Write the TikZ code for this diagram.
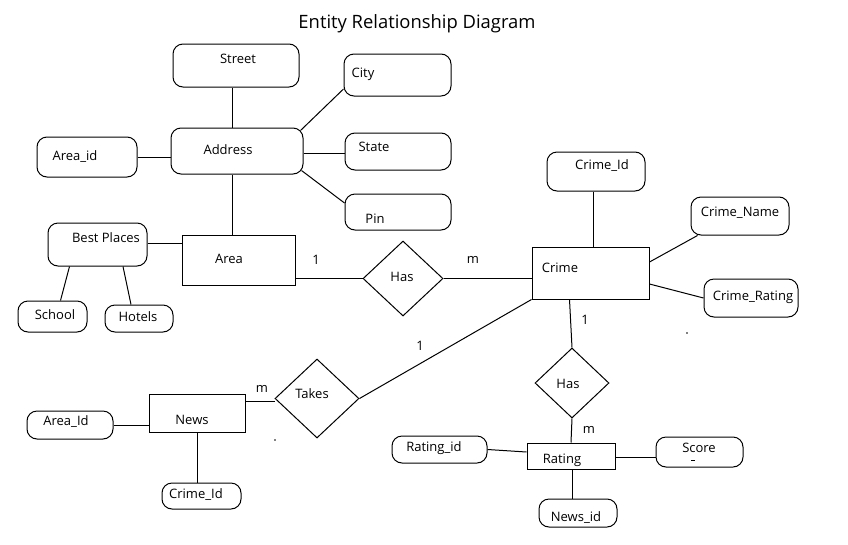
\documentclass[tikz,border=0pt]{standalone}
\usepackage{fontspec}
\setmainfont{Open Sans}
\usetikzlibrary{shapes.geometric}
\tikzset{
	attr/.style={draw, rounded corners=10pt, inner sep=0pt},
	entity/.style={draw, rectangle, inner sep=0pt},
	rel/.style={draw, diamond, inner sep=0pt},
	txt/.style={inner sep=0pt, text height=9pt, text depth=0pt},
	card/.style={inner sep=0pt, text height=9pt, text depth=0pt}
}
\begin{document}
\begin{tikzpicture}[x=1pt,y=-1pt,line width=1pt,font=\fontsize{13}{15}\selectfont]
\useasboundingbox (0,0) rectangle (848,544);
\node[inner sep=0pt, font=\fontsize{18.4}{21}\selectfont] (title) at (417,24) {Entity Relationship Diagram};

\node[attr, minimum width=126pt, minimum height=43pt] (street) at (236,65.5) {};
\node[attr, minimum width=107pt, minimum height=42pt] (city) at (397.5,75) {};
\node[attr, minimum width=132pt, minimum height=46pt] (address) at (237,151) {};
\node[attr, minimum width=100pt, minimum height=40pt] (areaid) at (87,157) {};
\node[attr, minimum width=106pt, minimum height=37pt] (state) at (398,151.5) {};
\node[attr, minimum width=106pt, minimum height=36pt] (pin) at (398,212) {};
\node[attr, minimum width=99pt, minimum height=43pt] (best) at (97.5,244.5) {};
\node[entity, minimum width=113pt, minimum height=50pt] (area) at (238.5,260) {};
\node[attr, minimum width=69pt, minimum height=31pt] (school) at (52.5,316.5) {};
\node[attr, minimum width=68pt, minimum height=27pt] (hotels) at (139,318.5) {};
\node[rel, minimum width=80pt, minimum height=75pt] (has1) at (403,278.5) {};

\node[attr, minimum width=98pt, minimum height=39pt] (crimeid) at (596,171.5) {};
\node[entity, minimum width=117pt, minimum height=52pt] (crime) at (590.5,273) {};
\node[attr, minimum width=98pt, minimum height=38pt] (crimename) at (740,216) {};
\node[attr, minimum width=94pt, minimum height=38pt] (crimerating) at (751,298) {};
\node[rel, minimum width=74pt, minimum height=70pt] (has2) at (572,383) {};

\node[entity, minimum width=88pt, minimum height=26pt] (rating) at (571,456) {};
\node[attr, minimum width=95pt, minimum height=27pt] (ratingid) at (439.5,449.5) {};
\node[attr, minimum width=87pt, minimum height=30pt] (score) at (699.5,452) {};
\node[attr, minimum width=78pt, minimum height=28pt] (newsid) at (578,513) {};

\node[entity, minimum width=96pt, minimum height=38pt] (news) at (197,413) {};
\node[attr, minimum width=86pt, minimum height=28pt] (newsareaid) at (70,425) {};
\node[attr, minimum width=79pt, minimum height=26pt] (newscrimeid) at (201.5,496) {};
\node[rel, minimum width=84pt, minimum height=79pt] (takes) at (317,398.5) {};

\node[txt] (street-t) at (238,59) {Street};
\node[txt] (city-t) at (363,73) {City};
\node[txt] (address-t) at (228,150) {Address};
\node[txt] (areaid-t) at (75,156) {Area\_id};
\node[txt] (state-t) at (374,147) {State};
\node[txt] (pin-t) at (375,219) {Pin};
\node[txt] (best-t) at (106,238) {Best Places};
\node[txt] (area-t) at (229,259) {Area};
\node[txt] (school-t) at (55,315) {School};
\node[txt] (hotels-t) at (138,317) {Hotels};
\node[txt] (has1-t) at (402,277) {Has};
\node[txt] (crimeid-t) at (602,165) {Crime\_Id};
\node[txt] (crime-t) at (560,268) {Crime};
\node[txt] (crimename-t) at (740,212) {Crime\_Name};
\node[txt] (crimerating-t) at (753,296) {Crime\_Rating};
\node[txt] (has2-t) at (568,384) {Has};
\node[txt] (rating-t) at (562,459) {Rating};
\node[txt] (ratingid-t) at (434,447) {Rating\_id};
\node[txt] (score-t) at (699,448) {Score};
\node[txt] (newsid-t) at (576,517) {News\_id};
\node[txt] (news-t) at (192,420) {News};
\node[txt] (newsareaid-t) at (66,421) {Area\_Id};
\node[txt] (newscrimeid-t) at (196,494) {Crime\_Id};
\node[txt] (takes-t) at (312,394) {Takes};

\node[card] (c1) at (316,260) {1};
\node[card] (c2) at (473,259) {m};
\node[card] (c3) at (585,320) {1};
\node[card] (c4) at (589,429) {m};
\node[card] (c5) at (262,388) {m};
\node[card] (c6) at (420,346) {1};

\draw ([xshift=-4pt]street.south) -- ([xshift=-5pt]address.north);
\draw ([xshift=-5pt]address.south) -- ([xshift=-6.5pt]area.north);
\draw (areaid.east) -- ([yshift=-6pt]address.west);
\draw ([yshift=-2pt]address.east) -- ([yshift=-1.5pt]state.west);
\draw ([xshift=-3pt,yshift=-3pt]address.north east) -- ([yshift=-14pt]city.west);
\draw ([xshift=-2pt,yshift=4pt]address.south east) -- ([yshift=9pt]pin.west);
\draw ([yshift=1.5pt]best.east) -- ([yshift=1.5pt]best.east -| area.west);
\draw ([xshift=8pt]school.north) -- ([xshift=-28pt]best.south);
\draw ([xshift=-8pt]hotels.north) -- ([xshift=25.5pt]best.south);
\draw (has1.west -| area.east) -- (has1.west);
\draw (has1.east) -- (has1.east -| crime.west);
\draw ([xshift=-3pt]crimeid.south) -- ([xshift=2.5pt]crime.north);
\draw ([yshift=11pt]crime.east) -- ([xshift=7pt]crimename.south west);
\draw ([yshift=-11pt]crime.east) -- (crimerating.west);
\draw ([xshift=-21pt]crime.south) -- (has2.north);
\draw (takes.east) -- (crime.south west);
\draw ([yshift=-2.5pt]takes.west -| news.east) -- ([yshift=-2.5pt]takes.west);
\draw (newsareaid.east) -- (newsareaid.east -| news.west);
\draw (news.south) -- (news.south |- newscrimeid.north);
\draw (has2.south) -- (rating.north);
\draw (ratingid.east) -- ([yshift=4pt]rating.west);
\draw ([yshift=-1pt]rating.east) -- ([yshift=-1pt]rating.east -| score.west);
\draw ([xshift=1pt]rating.south) -- ([xshift=1pt]rating.south |- newsid.north);

\draw[line width=0.8pt] (691,460) -- (695,460);
\fill (687,333) circle (0.8pt);
\fill (275,440) circle (0.8pt);
\end{tikzpicture}
\end{document}
